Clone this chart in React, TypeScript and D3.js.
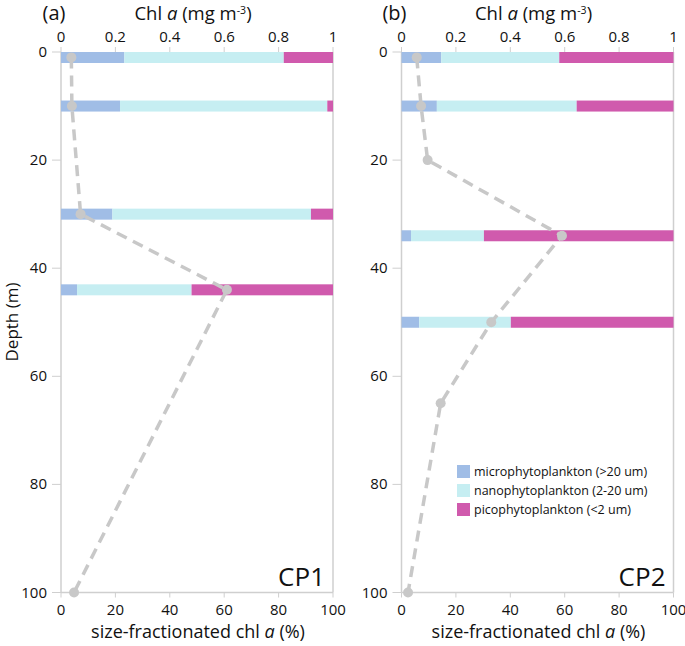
import React from "react";
import * as d3 from "d3";

const panels = ["(a)", "(b)"];
const stations = ["CP1", "CP2"];
const sizeClasses = ["microphytoplankton (>20 um)", "nanophytoplankton (2-20 um)", "picophytoplankton (<2 um)"];
const classColors = ["#a0bde6", "#c6eef2", "#d05aad"];

// CP1 size-fractionated (%): depth, micro, nano, pico
const cp1BarDepths = [1, 10, 30, 44];
const cp1Micro = [23.3, 21.7, 18.9, 5.9];
const cp1Nano = [58.6, 76.2, 73.0, 42.1];
const cp1Pico = [18.1, 2.1, 8.1, 52.0];
// CP1 chl a profile
const cp1ChlDepths = [1, 10, 30, 44, 100];
const cp1Chl = [0.038, 0.04, 0.072, 0.61, 0.048];

// CP2
const cp2BarDepths = [1, 10, 34, 50];
const cp2Micro = [14.6, 13.0, 3.5, 6.5];
const cp2Nano = [43.4, 51.4, 26.8, 33.7];
const cp2Pico = [42.0, 35.6, 69.7, 59.8];
const cp2ChlDepths = [1, 10, 20, 34, 50, 65, 100];
const cp2Chl = [0.056, 0.072, 0.096, 0.59, 0.33, 0.144, 0.024];

const depthTicks = [0, 20, 40, 60, 80, 100];
const pctTicks = [0, 20, 40, 60, 80, 100];
const chlTicks = [0, 0.2, 0.4, 0.6, 0.8, 1];

const FONT = "'Open Sans', 'Noto Sans', sans-serif";
const AXIS = "#cfcfcf";

type PanelProps = {
  x0: number;
  label: string;
  station: string;
  barDepths: number[];
  micro: number[];
  nano: number[];
  pico: number[];
  chlDepths: number[];
  chl: number[];
  legend: boolean;
};

function Panel(p: PanelProps) {
  const width = 272;
  const x = d3.scaleLinear().domain([0, 100]).range([p.x0, p.x0 + width]);
  const xc = d3.scaleLinear().domain([0, 1]).range([p.x0, p.x0 + width]);
  const y = d3.scaleLinear().domain([0, 100]).range([52, 592.5]);
  const barH = 11;
  const line = d3
    .line<number>()
    .x((_, i) => xc(p.chl[i]))
    .y((_, i) => y(p.chlDepths[i]));
  const yTop = y(0);
  const yBot = y(100);
  return (
    <g>
      <text x={p.x0 - 7} y={20} fontSize={20} fontFamily={FONT} textAnchor="middle" fill="#111">
        {p.label}
      </text>
      <text x={p.x0 + width / 2 - 4} y={19.5} fontSize={18.5} fontFamily={FONT} textAnchor="middle" fill="#111">
        Chl <tspan fontStyle="italic">a</tspan> (mg m
        <tspan dy={-6} fontSize={10.5}>-3</tspan>
        <tspan dy={6}>)</tspan>
      </text>
      {/* frame */}
      <line x1={p.x0} x2={p.x0} y1={yTop} y2={yBot} stroke={AXIS} strokeWidth={1.5} />
      <line x1={p.x0 + width} x2={p.x0 + width} y1={yTop} y2={yBot} stroke={AXIS} strokeWidth={1.5} />
      <line x1={p.x0} x2={p.x0 + width} y1={yBot} y2={yBot} stroke={AXIS} strokeWidth={1.5} />
      {/* top ticks */}
      {chlTicks.map((t) => (
        <g key={"c" + t}>
          <line x1={xc(t)} x2={xc(t)} y1={yTop - 5} y2={yTop} stroke={AXIS} strokeWidth={1} />
          <text x={xc(t)} y={yTop - 10} fontSize={15} fontFamily={FONT} textAnchor="middle" fill="#111">
            {String(t)}
          </text>
        </g>
      ))}
      {/* left ticks */}
      {depthTicks.map((t) => (
        <g key={"d" + t}>
          <line x1={p.x0 - 9} x2={p.x0} y1={y(t)} y2={y(t)} stroke={AXIS} strokeWidth={1} />
          <text x={p.x0 - 14} y={y(t) + 5} fontSize={15} fontFamily={FONT} textAnchor="end" fill="#111">
            {t}
          </text>
        </g>
      ))}
      {/* bottom ticks */}
      {pctTicks.map((t) => (
        <g key={"p" + t}>
          <line x1={x(t)} x2={x(t)} y1={yBot} y2={yBot + 5} stroke={AXIS} strokeWidth={1} />
          <text x={x(t)} y={yBot + 22} fontSize={15} fontFamily={FONT} textAnchor="middle" fill="#111">
            {t}
          </text>
        </g>
      ))}
      <text x={p.x0 + width / 2 + 1} y={638} fontSize={18} fontFamily={FONT} textAnchor="middle" fill="#111">
        size-fractionated chl <tspan fontStyle="italic">a</tspan> (%)
      </text>
      {/* bars */}
      {p.barDepths.map((d, i) => {
        const vals = [p.micro[i], p.nano[i], p.pico[i]];
        let acc = 0;
        const yc = y(d);
        return (
          <g key={"b" + i}>
            {vals.map((v, j) => {
              const start = acc;
              acc += v;
              return (
                <rect
                  key={j}
                  x={x(start)}
                  width={Math.max(0, x(acc) - x(start))}
                  y={Math.max(yTop, yc - barH / 2)}
                  height={barH}
                  fill={classColors[j]}
                />
              );
            })}
          </g>
        );
      })}
      {/* chl profile */}
      <path
        d={line(p.chl) || ""}
        fill="none"
        stroke="#c8c8c8"
        strokeWidth={3.5}
        strokeDasharray="11,7"
      />
      {p.chl.map((c, i) => (
        <circle key={"pt" + i} cx={xc(c)} cy={y(p.chlDepths[i])} r={5} fill="#c8c8c8" />
      ))}
      <text x={p.x0 + width - 8} y={586} fontSize={26} fontFamily={FONT} textAnchor="end" fill="#111">
        {p.station}
      </text>
      {p.legend &&
        sizeClasses.map((s, i) => (
          <g key={"l" + i}>
            <rect x={457} y={465 + i * 19} width={13} height={13} fill={classColors[i]} />
            <text x={474} y={476 + i * 19} fontSize={12.5} fontFamily={FONT} fill="#111">
              {s}
            </text>
          </g>
        ))}
    </g>
  );
}

export default function App() {
  return (
    <svg width={685} height={646} style={{ position: "absolute", left: 0, top: 0, background: "#fff" }}>
      <rect width={685} height={646} fill="#fff" />
      <text
        transform="translate(17.5,322) rotate(-90)"
        fontSize={17}
        fontFamily={FONT}
        textAnchor="middle"
        fill="#111"
      >
        Depth (m)
      </text>
      <Panel
        x0={61}
        label={panels[0]}
        station={stations[0]}
        barDepths={cp1BarDepths}
        micro={cp1Micro}
        nano={cp1Nano}
        pico={cp1Pico}
        chlDepths={cp1ChlDepths}
        chl={cp1Chl}
        legend={false}
      />
      <Panel
        x0={401.5}
        label={panels[1]}
        station={stations[1]}
        barDepths={cp2BarDepths}
        micro={cp2Micro}
        nano={cp2Nano}
        pico={cp2Pico}
        chlDepths={cp2ChlDepths}
        chl={cp2Chl}
        legend={true}
      />
    </svg>
  );
}
